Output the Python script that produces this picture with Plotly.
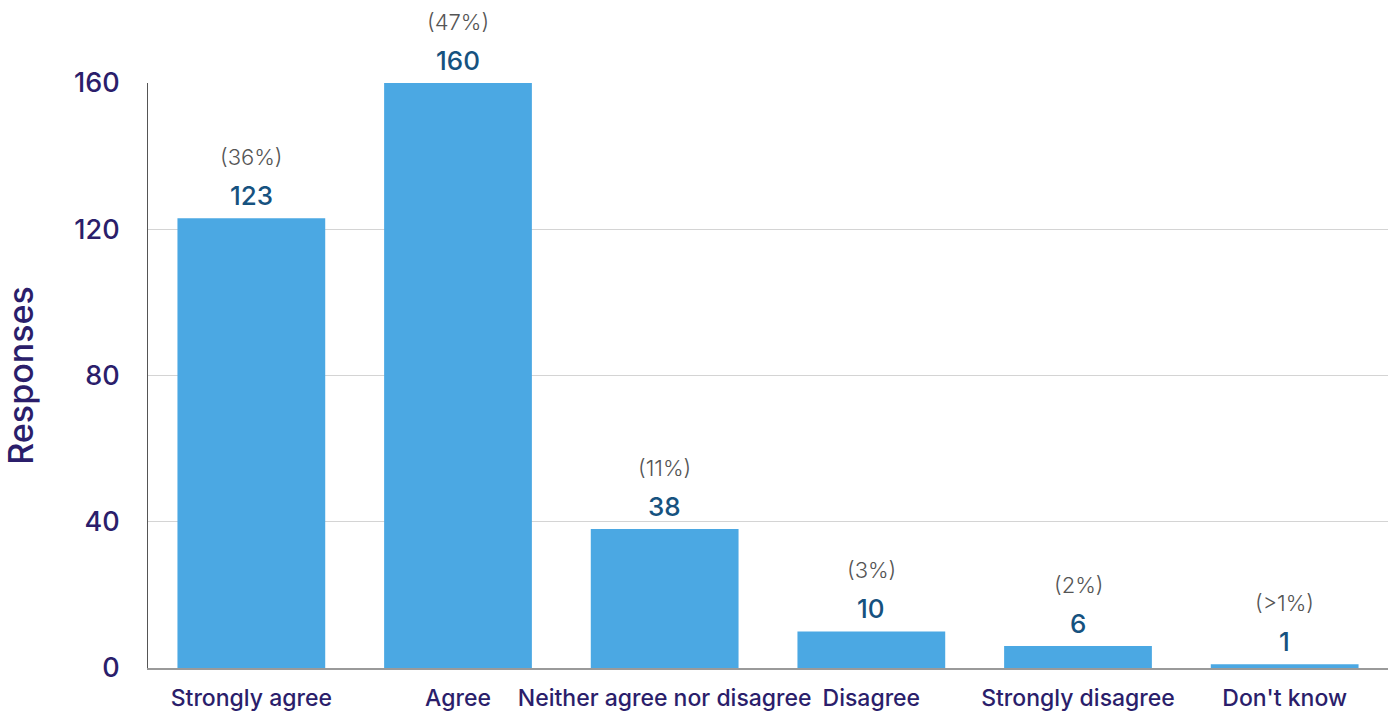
import plotly.graph_objects as go

categories = ["Strongly agree", "Agree", "Neither agree nor disagree", "Disagree", "Strongly disagree", "Don't know"]
responses = [123, 160, 38, 10, 6, 1]
percent_labels = ["(36%)", "(47%)", "(11%)", "(3%)", "(2%)", "(>1%)"]
y_ticks = [0, 40, 80, 120, 160]

FONT = "Inter"
NAVY = "#2B1E6B"
BAR = "#4BA8E3"
VAL = "#16527F"

fig = go.Figure()
fig.add_trace(go.Bar(x=categories, y=responses, marker=dict(color=BAR, line=dict(width=0)),
                     hoverinfo="x+y"))

for c, v, p in zip(categories, responses, percent_labels):
    fig.add_annotation(x=c, y=v, text=str(v), showarrow=False, yanchor="bottom", yshift=5,
                       font=dict(family=FONT, size=26, color=VAL, weight=500))
    fig.add_annotation(x=c, y=v, text=p, showarrow=False, yanchor="bottom", yshift=46,
                       font=dict(family=FONT, size=22, color="#555555", weight=300))

fig.update_layout(
    width=1397, height=715,
    margin=dict(l=148, r=9, t=83, b=47),
    paper_bgcolor="white", plot_bgcolor="white",
    bargap=0.285,
    showlegend=False,
    font=dict(family=FONT, color=NAVY),
)
fig.update_xaxes(
    tickfont=dict(family=FONT, size=23, color=NAVY, weight=500),
    showline=True, linecolor="#9a9a9a", linewidth=2,
    ticks="", showgrid=False, ticklabelstandoff=8, automargin=False,
)
fig.update_yaxes(
    range=[0, 160], tickvals=y_ticks,
    tickfont=dict(family=FONT, size=27, color=NAVY, weight=500),
    title=dict(text="Responses", font=dict(family=FONT, size=34, color=NAVY, weight=500), standoff=37),
    showgrid=True, gridcolor="#d4d4d4", gridwidth=1,
    showline=True, linecolor="#555555", linewidth=1,
    zeroline=False, ticks="", ticklabelstandoff=22, automargin=False,
)

fig.write_html("out.html", config={"displayModeBar": False},
               post_script="document.body.style.margin='0';document.body.style.overflow='hidden';")
